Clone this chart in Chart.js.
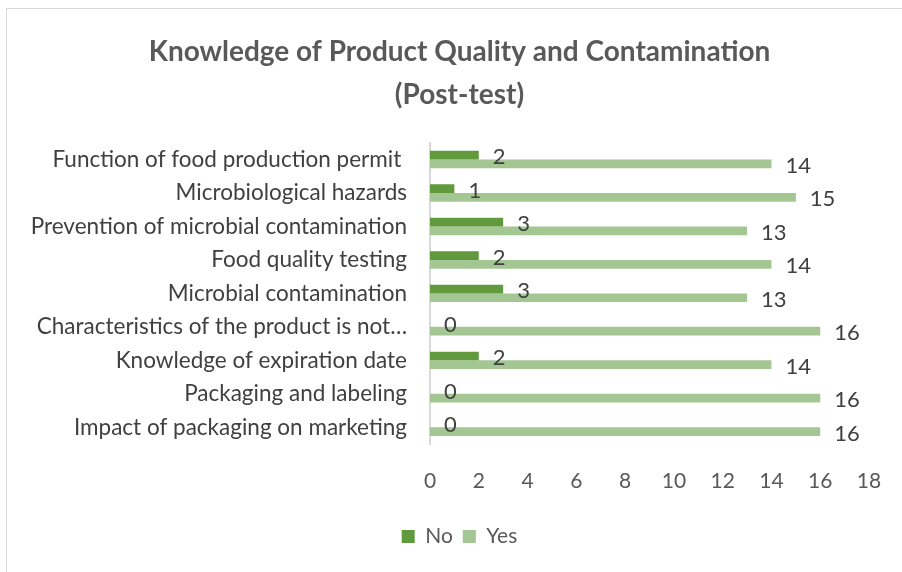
<!DOCTYPE html>
<html>
<head>
<meta charset="utf-8">
<script src="https://cdn.jsdelivr.net/npm/chart.js@4.4.1/dist/chart.umd.min.js"></script>
<style>
  html, body { margin: 0; padding: 0; background: #fff; }
  #wrap { position: relative; width: 902px; height: 572px; overflow: hidden; }
  #frame { position: absolute; left: 6px; top: 8px; width: 902px; height: 572px;
           border-top: 1px solid #d9d9d9; border-left: 1px solid #d9d9d9; }
  canvas { position: absolute; left: 0; top: 0; }
</style>
</head>
<body>
<div id="wrap">
  <div id="frame"></div>
  <canvas id="myChart" width="902" height="572"></canvas>
</div>
<script>
const categories = [
    'Function of food production permit ',
    'Microbiological hazards',
    'Prevention of microbial contamination',
    'Food quality testing',
    'Microbial contamination',
    'Characteristics of the product is not\u2026',
    'Knowledge of expiration date',
    'Packaging and labeling',
    'Impact of packaging on marketing'
];
const noValues = [2, 1, 3, 2, 3, 0, 2, 0, 0];
const yesValues = [14, 15, 13, 14, 13, 16, 14, 16, 16];
const titleLines = ['Knowledge of Product Quality and Contamination', '(Post-test)'];

const FONT = 'Lato, "Open Sans", sans-serif';

// value labels drawn just past the end of each bar
const valueLabels = {
    id: 'valueLabels',
    afterDatasetsDraw(chart) {
        const c = chart.ctx;
        c.save();
        c.font = '22px ' + FONT;
        c.fillStyle = '#404040';
        c.textAlign = 'left';
        c.textBaseline = 'middle';
        chart.data.datasets.forEach((ds, i) => {
            chart.getDatasetMeta(i).data.forEach((bar, j) => {
                c.fillText(String(ds.data[j]), bar.x + 14, bar.y + 2);
            });
        });
        c.restore();
    }
};

const ctx = document.getElementById('myChart').getContext('2d');
const myChart = new Chart(ctx, {
    type: 'bar',
    data: {
        labels: categories,
        datasets: [{
            label: 'No',
            data: noValues,
            backgroundColor: '#619a3c'
        }, {
            label: 'Yes',
            data: yesValues,
            backgroundColor: '#a3c693'
        }]
    },
    options: {
        indexAxis: 'y',
        responsive: false,
        animation: false,
        layout: {
            padding: {left: 50, right: 33, top: 30, bottom: 15}
        },
        datasets: {
            bar: {
                categoryPercentage: 0.52,
                barPercentage: 1
            }
        },
        plugins: {
            title: {
                display: true,
                text: titleLines,
                color: '#595959',
                font: {family: FONT, size: 28, weight: 'bold', lineHeight: 1.55},
                padding: {top: 0, bottom: 26}
            },
            legend: {
                display: true,
                position: 'bottom',
                labels: {
                    color: '#595959',
                    font: {family: FONT, size: 21},
                    boxWidth: 13,
                    boxHeight: 13,
                    padding: 10
                }
            },
            tooltip: {enabled: false}
        },
        scales: {
            x: {
                min: 0,
                max: 18,
                ticks: {
                    stepSize: 2,
                    color: '#595959',
                    font: {family: FONT, size: 21},
                    padding: 17
                },
                grid: {display: false},
                border: {display: false},
                afterFit(scale) { scale.height = 72; }
            },
            y: {
                ticks: {
                    color: '#404040',
                    font: {family: FONT, size: 22.5},
                    padding: 15,
                    autoSkip: false
                },
                grid: {display: false},
                border: {display: true, color: '#d9d9d9', width: 2},
                afterFit(scale) {
                    scale.width = 380;
                    // long labels run past the axis box, so don't clip them to it
                    scale._computeLabelArea = () => undefined;
                }
            }
        }
    },
    plugins: [valueLabels]
});
</script>
</body>
</html>
